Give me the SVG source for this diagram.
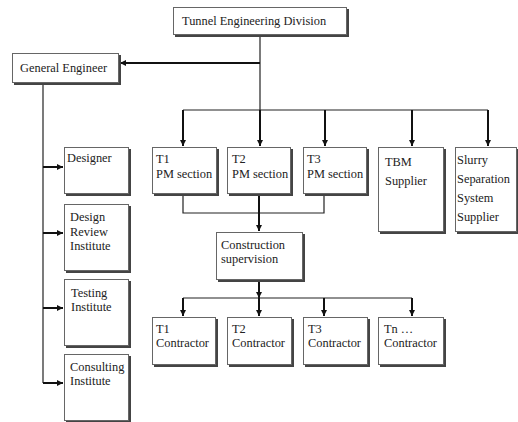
<svg xmlns="http://www.w3.org/2000/svg" width="518" height="422" viewBox="0 0 518 422">
<defs>
<style>
.sh{fill:#444}
.bx{fill:#fff;stroke:#666;stroke-width:1}
.t{font-family:"Liberation Serif","Times New Roman",serif;font-size:12.4px;fill:#222}
.ln{fill:none;stroke:#222;stroke-width:1.2}
.ar{fill:none;stroke:#111;stroke-width:2;marker-end:url(#ah)}
</style>
<marker id="ah" viewBox="0 0 8 8" refX="8" refY="4" markerWidth="3.2" markerHeight="3.2" orient="auto" markerUnits="strokeWidth">
<path d="M0,0 L8,4 L0,8 z" fill="#111"/>
</marker>
</defs>
<rect width="518" height="422" fill="#fff"/>
<g id="connectors">
<path class="ln" d="M260,37 V110"/>
<path class="ar" d="M260,63 H120"/>
<path class="ln" d="M183,110 H488"/>
<path class="ar" d="M183,110 V146"/>
<path class="ar" d="M260,110 V146"/>
<path class="ar" d="M325,110 V146"/>
<path class="ar" d="M412,110 V146"/>
<path class="ar" d="M488,110 V146"/>
<path class="ln" d="M43,84 V383"/>
<path class="ar" d="M43,167 H63"/>
<path class="ar" d="M43,233 H63"/>
<path class="ar" d="M43,308 H63"/>
<path class="ar" d="M43,383 H63"/>
<path class="ln" d="M183,195 V213 H324 V195"/>
<path class="ar" d="M259,195 V231"/>
<path class="ar" d="M259,281 V298"/>
<path class="ln" d="M183,298 H412"/>
<path class="ar" d="M183,298 V316"/>
<path class="ar" d="M412,298 V316"/>
<path class="ar" d="M324,298 V316"/>
<path class="ar" d="M259,298 V316"/>
</g>
<g id="tunnel"><rect class="sh" x="175" y="9" width="174" height="28"/><rect class="bx" x="173.5" y="7.5" width="173" height="27"/><text class="t" x="182" y="25">Tunnel Engineering Division</text></g>
<g id="general"><rect class="sh" x="14" y="55" width="107" height="30"/><rect class="bx" x="12.5" y="53.5" width="106" height="29"/><text class="t" x="20" y="72">General Engineer</text></g>
<g id="designer"><rect class="sh" x="66" y="149" width="65" height="47"/><rect class="bx" x="64.5" y="147.5" width="64" height="46"/><text class="t" x="67" y="162">Designer</text></g>
<g id="review"><rect class="sh" x="66" y="206" width="65" height="67"/><rect class="bx" x="64.5" y="204.5" width="64" height="66"/><text class="t" x="70" y="221">Design</text><text class="t" x="70" y="236">Review</text><text class="t" x="70" y="250">Institute</text></g>
<g id="testing"><rect class="sh" x="66" y="281" width="65" height="67"/><rect class="bx" x="64.5" y="279.5" width="64" height="66"/><text class="t" x="71" y="297">Testing</text><text class="t" x="71" y="311">Institute</text></g>
<g id="consulting"><rect class="sh" x="66" y="356" width="65" height="66"/><rect class="bx" x="64.5" y="354.5" width="64" height="66"/><text class="t" x="70" y="371">Consulting</text><text class="t" x="70" y="385">Institute</text></g>
<g id="t1pm"><rect class="sh" x="154" y="149" width="65" height="47"/><rect class="bx" x="152.5" y="147.5" width="64" height="46"/><text class="t" x="156" y="163">T1</text><text class="t" x="156" y="178">PM section</text></g>
<g id="t2pm"><rect class="sh" x="229" y="149" width="64" height="47"/><rect class="bx" x="227.5" y="147.5" width="63" height="46"/><text class="t" x="232" y="163">T2</text><text class="t" x="232" y="178">PM section</text></g>
<g id="t3pm"><rect class="sh" x="305" y="149" width="64" height="47"/><rect class="bx" x="303.5" y="147.5" width="63" height="46"/><text class="t" x="307" y="163">T3</text><text class="t" x="307" y="178">PM section</text></g>
<g id="tbm"><rect class="sh" x="380" y="149" width="66" height="85"/><rect class="bx" x="378.5" y="147.5" width="65" height="84"/><text class="t" x="385" y="166">TBM</text><text class="t" x="385" y="185">Supplier</text></g>
<g id="slurry"><rect class="sh" x="457" y="149" width="61" height="85"/><rect class="bx" x="455.5" y="147.5" width="61" height="84"/><text class="t" x="457" y="164">Slurry</text><text class="t" x="457" y="183">Separation</text><text class="t" x="457" y="202">System</text><text class="t" x="457" y="221">Supplier</text></g>
<g id="supervision"><rect class="sh" x="218" y="234" width="87" height="48"/><rect class="bx" x="216.5" y="232.5" width="86" height="47"/><text class="t" x="221" y="249">Construction</text><text class="t" x="221" y="263">supervision</text></g>
<g id="c1"><rect class="sh" x="154" y="319" width="64" height="48"/><rect class="bx" x="152.5" y="317.5" width="63" height="47"/><text class="t" x="156" y="333">T1</text><text class="t" x="156" y="347">Contractor</text></g>
<g id="c2"><rect class="sh" x="229" y="319" width="65" height="48"/><rect class="bx" x="227.5" y="317.5" width="64" height="47"/><text class="t" x="232" y="333">T2</text><text class="t" x="232" y="347">Contractor</text></g>
<g id="c3"><rect class="sh" x="305" y="319" width="65" height="48"/><rect class="bx" x="303.5" y="317.5" width="64" height="47"/><text class="t" x="308" y="333">T3</text><text class="t" x="308" y="347">Contractor</text></g>
<g id="cn"><rect class="sh" x="380" y="319" width="66" height="48"/><rect class="bx" x="378.5" y="317.5" width="65" height="47"/><text class="t" x="384" y="333">Tn …</text><text class="t" x="384" y="347">Contractor</text></g>
</svg>
